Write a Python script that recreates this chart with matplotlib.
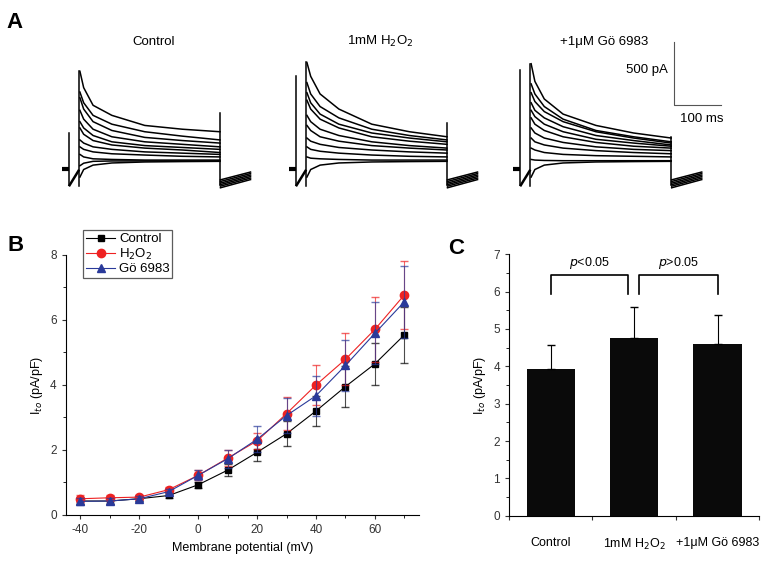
import matplotlib.pyplot as plt
from matplotlib.ticker import MultipleLocator, FixedLocator

# ---------------- panel A: current traces (pA vs ms) ----
trace_t = [2, 10, 30, 70, 140, 220, 300]
control_sweeps = [
    [720, 590, 450, 370, 290, 260, 240],
    [555, 470, 370, 300, 240, 205, 175],
    [510, 420, 320, 250, 195, 170, 150],
    [410, 340, 260, 200, 160, 140, 120],
    [320, 270, 210, 160, 130, 115, 100],
    [270, 220, 170, 135, 110, 95, 75],
    [175, 150, 120, 100, 80, 70, 60],
    [120, 100, 80, 65, 55, 45, 40],
    [60, 40, 25, 20, 15, 15, 15],
    [-30, -10, 5, 8, 8, 8, 8],
    [-120, -60, -25, -8, 0, 3, 5],
]
h2o2_sweeps = [
    [790, 680, 540, 420, 300, 240, 200],
    [630, 540, 440, 350, 260, 210, 175],
    [550, 470, 380, 300, 230, 190, 160],
    [490, 420, 340, 270, 200, 165, 140],
    [370, 320, 260, 210, 160, 130, 110],
    [290, 250, 200, 165, 130, 110, 95],
    [190, 165, 140, 115, 95, 80, 70],
    [120, 100, 85, 70, 55, 45, 40],
    [40, 30, 25, 20, 15, 15, 15],
    [-120, -60, -25, -8, 0, 3, 5],
]
go_sweeps = [
    [780, 640, 500, 380, 290, 230, 190],
    [620, 540, 440, 340, 250, 200, 160],
    [550, 480, 400, 320, 240, 190, 150],
    [470, 410, 350, 280, 210, 170, 135],
    [410, 360, 300, 240, 180, 150, 125],
    [350, 300, 250, 200, 155, 125, 110],
    [270, 230, 190, 155, 120, 100, 90],
    [190, 160, 135, 110, 90, 75, 65],
    [110, 95, 75, 60, 50, 45, 40],
    [20, 15, 12, 10, 10, 10, 10],
    [-120, -60, -25, -8, 0, 3, 5],
]
rec_titles = ['Control', '1mM H$_2$O$_2$', '+1\u03bcM G\u00f6 6983']
rec_offsets = [0, 483, 960]          # ms, onset of each recording
rec_prespike = [230, 683, 730]       # top of capacitive spike before the step
rec_endspike = [389, 310, 198]       # top of spike at end of step
tail_start = [-205, -192, -180, -168, -155, -142]
tail_end = [-140, -128, -116, -104, -92, -80]

# ---------------- panel B: I-V curves ----------------
mv = [-40, -30, -20, -10, 0, 10, 20, 30, 40, 50, 60, 70]
iv_control = [0.43, 0.43, 0.5, 0.6, 0.93, 1.38, 1.93, 2.5, 3.2, 3.95, 4.65, 5.54]
iv_control_err = [0.08, 0.08, 0.08, 0.08, 0.1, 0.18, 0.27, 0.38, 0.45, 0.62, 0.65, 0.87]
iv_h2o2 = [0.5, 0.53, 0.55, 0.78, 1.22, 1.75, 2.28, 3.12, 4.0, 4.79, 5.71, 6.77]
iv_h2o2_err = [0.1, 0.08, 0.08, 0.08, 0.15, 0.25, 0.25, 0.52, 0.62, 0.8, 0.99, 1.05]
iv_go = [0.42, 0.43, 0.5, 0.72, 1.22, 1.73, 2.33, 3.06, 3.67, 4.6, 5.59, 6.56]
iv_go_err = [0.1, 0.08, 0.08, 0.08, 0.15, 0.27, 0.4, 0.55, 0.62, 0.78, 0.95, 1.1]

# ---------------- panel C: bars ----------------
bar_labels = ['Control', '1mM H$_2$O$_2$', '+1\u03bcM G\u00f6 6983']
bar_values = [3.93, 4.77, 4.6]
bar_err = [0.63, 0.82, 0.78]

plt.rcParams['font.family'] = ['Liberation Sans', 'DejaVu Sans']
plt.rcParams['axes.unicode_minus'] = False
fig = plt.figure(figsize=(7.76, 5.61), dpi=100)

# ---- A ----
axA = fig.add_axes([0, 0.6435, 1, 0.3565])
axA.set_xlim(-168, 1483)
axA.set_ylim(-302, 1286)
axA.axis('off')
for k, sweeps in enumerate([control_sweeps, h2o2_sweeps, go_sweeps]):
    off = rec_offsets[k]
    kw = dict(color='black', lw=1.1)
    axA.plot([off - 36, off - 22], [-56, -56], color='black', lw=3, solid_capstyle='butt')
    axA.plot([off - 21, off - 21], [-183, rec_prespike[k]], **kw)
    axA.plot([off - 20, off - 1], [-185, -70], color='black', lw=1.8)
    axA.plot([off, off], [-190, sweeps[0][0]], **kw)
    for s in sweeps:
        axA.plot([off + t for t in trace_t], s, **kw)
    axA.plot([off + 300, off + 300], [-183, rec_endspike[k]], **kw)
    for a, b in zip(tail_start, tail_end):
        axA.plot([off + 301, off + 365], [a, b], **kw)
    axA.text(off + 158, 955, rec_titles[k], ha='center', va='center', fontsize=9.5)
# scale bar
axA.plot([1266, 1266, 1366], [952, 452, 452], color='#555555', lw=0.8)
axA.text(1253, 730, '500 pA', ha='right', va='center', fontsize=9.5)
axA.text(1278, 390, '100 ms', ha='left', va='top', fontsize=9.5)

fig.text(0.008, 0.950, 'A', fontsize=16, fontweight='bold')
fig.text(0.010, 0.553, 'B', fontsize=16, fontweight='bold')
fig.text(0.577, 0.548, 'C', fontsize=16, fontweight='bold')

# ---- B ----
axB = fig.add_axes([0.0847, 0.082, 0.4553, 0.4635])
series = [(iv_control, iv_control_err, 'black', 's', 'Control', 5),
          (iv_h2o2, iv_h2o2_err, '#ee2222', 'o', 'H$_2$O$_2$', 6),
          (iv_go, iv_go_err, '#2a3a9a', '^', 'G\u00f6 6983', 6)]
for vals, err, col, mk, lab, ms in series:
    axB.errorbar(mv, vals, yerr=err, fmt='none', ecolor=col, elinewidth=0.8,
                 capsize=3, alpha=0.7)
    axB.plot(mv, vals, color=col, lw=0.8, marker=mk, markersize=ms, label=lab)
axB.set_xlim(-45, 75)
axB.set_ylim(0, 8)
axB.spines['top'].set_visible(False)
axB.spines['right'].set_visible(False)
axB.xaxis.set_major_locator(MultipleLocator(20))
axB.xaxis.set_minor_locator(MultipleLocator(10))
axB.yaxis.set_major_locator(MultipleLocator(2))
axB.yaxis.set_minor_locator(MultipleLocator(1))
axB.tick_params(labelsize=8.5, colors='#333333', length=3)
axB.tick_params(which='minor', length=2)
axB.set_xlabel('Membrane potential (mV)', fontsize=9)
axB.set_ylabel('I$_{to}$ (pA/pF)', fontsize=9)
leg = axB.legend(loc='upper left', bbox_to_anchor=(0.05, 1.095), fontsize=9.5,
                 frameon=True, fancybox=False, edgecolor='#333333',
                 handlelength=2.2, handletextpad=0.3, borderpad=0.2,
                 labelspacing=0.1, borderaxespad=0)
leg.get_frame().set_linewidth(0.9)

# ---- C ----
axC = fig.add_axes([0.656, 0.0807, 0.3225, 0.466])
pos = list(range(len(bar_values)))
axC.bar(pos, bar_values, width=0.58, color='#0a0a0a')
axC.errorbar(pos, bar_values, yerr=[[0] * 3, bar_err], fmt='none', ecolor='black',
             elinewidth=0.8, capsize=3)
axC.set_xlim(-0.5, 2.5)
axC.set_ylim(0, 7)
axC.spines['top'].set_visible(False)
axC.spines['right'].set_visible(False)
axC.xaxis.set_major_locator(FixedLocator([-0.5, 0.5, 1.5, 2.5]))
axC.xaxis.set_major_formatter(plt.NullFormatter())
axC.xaxis.set_minor_locator(FixedLocator(pos))
axC.set_xticklabels(bar_labels, minor=True, fontsize=9)
axC.tick_params(axis='x', which='minor', length=0, pad=15)
axC.yaxis.set_major_locator(MultipleLocator(1))
axC.yaxis.set_minor_locator(MultipleLocator(0.5))
axC.tick_params(labelsize=8.5, colors='#333333', length=3)
axC.tick_params(axis='y', which='minor', length=2)
axC.set_ylabel('I$_{to}$ (pA/pF)', fontsize=9)
# significance brackets
axC.plot([0, 0, 0.93, 0.93], [5.95, 6.45, 6.45, 5.95], color='black', lw=1.2)
axC.plot([1.06, 1.06, 2, 2], [5.95, 6.45, 6.45, 5.95], color='black', lw=1.2)
axC.text(0.46, 6.55, '$p$<0.05', ha='center', va='bottom', fontsize=9)
axC.text(1.53, 6.55, '$p$>0.05', ha='center', va='bottom', fontsize=9)

fig.savefig('out.png', dpi=100)
